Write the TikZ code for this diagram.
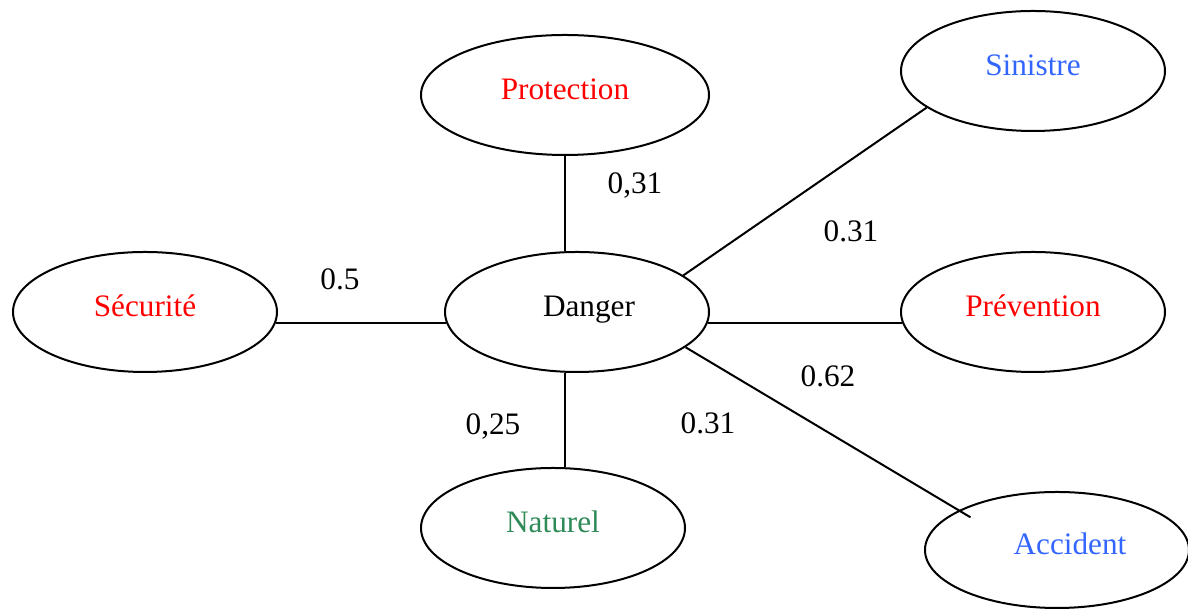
\documentclass[tikz,border=0pt]{standalone}
\usepackage{fontspec}
\setmainfont{Liberation Serif}
\usetikzlibrary{shapes.geometric}
\definecolor{rouge}{RGB}{255,0,0}
\definecolor{bleu}{RGB}{51,102,255}
\definecolor{vert}{RGB}{46,139,87}

\begin{document}
\begin{tikzpicture}[x=0.4pt,y=-0.4pt,line width=0.8pt,
  every node/.style={font=\fontsize{12.5}{15}\selectfont},
  etat/.style={draw, shape=ellipse, inner sep=0pt, minimum width=105.6pt, minimum height=48pt, text height=8pt, text depth=4pt},
  poids/.style={anchor=base}]
\useasboundingbox (0,0) rectangle (1188,610);
\node[etat, minimum width=115.2pt, text=rouge] (protection) at (565,95) {Protection};
\node[etat, text=bleu] (sinistre) at (1033,71) {Sinistre};
\node[etat, text=rouge] (securite) at (145,312) {Sécurité};
\node[etat] (danger) at (577,312) {\hspace*{9.6pt}Danger};
\node[etat, text=rouge] (prevention) at (1033,312) {Prévention};
\node[etat, text=vert] (naturel) at (553,528) {Naturel};
\node[etat, minimum height=46.4pt, text=bleu] (accident) at (1057,550) {\hspace*{10.4pt}Accident};

\draw (protection.south) -- (protection.south |- danger.north);
\draw (danger.south -| protection.south) -- (naturel.north -| protection.south);
\draw (securite.-5) -- (danger.185);
\draw (danger.-5) -- (prevention.185);
\draw (danger.19) -- (sinistre.199);
\draw[shorten >=-5.5pt] (danger.-18) -- (accident.158);

\node[poids] (wprotection) at (635,194) {0,31};
\node[poids] (wsinistre) at (851,242) {0.31};
\node[poids] (wsecurite) at (340,290) {0.5};
\node[poids] (wprevention) at (828,387) {0.62};
\node[poids] (waccident) at (708,434) {0.31};
\node[poids] (wnaturel) at (493,435) {0,25};
\end{tikzpicture}
\end{document}
